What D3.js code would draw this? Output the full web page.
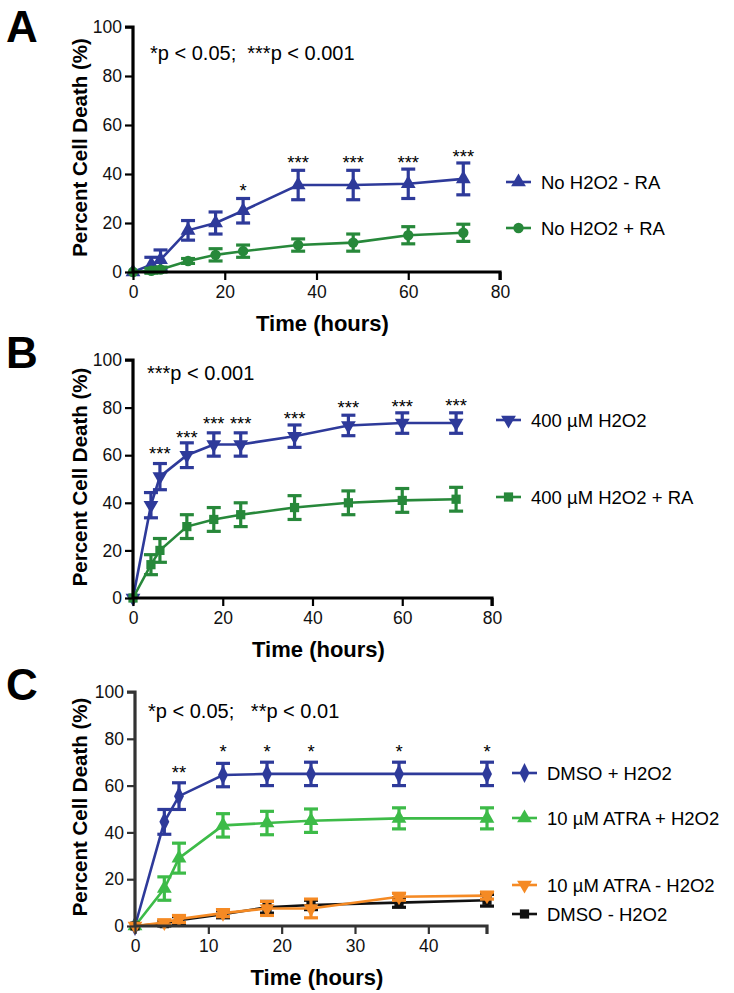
<!DOCTYPE html>
<html><head><meta charset="utf-8">
<script src="https://cdn.jsdelivr.net/npm/d3@7"></script>
<style>
body{margin:0;background:#fff;}
text{font-family:"Liberation Sans",Arial,Helvetica,sans-serif;}
</style></head>
<body><svg id="chart" width="734" height="993"></svg>
<script>
// ---------- DATA ----------
const timesAB = [0, 4, 6, 12, 18, 24, 36, 48, 60, 72];
const timesC  = [0, 4, 6, 12, 18, 24, 36, 48];

// Panel A
const aNoH2O2MinusRA     = [0, 3, 5, 17, 20, 25, 35.5, 35.5, 36, 38];
const aNoH2O2MinusRAErr  = [0, 3, 4, 4, 4.5, 5, 6, 6, 6, 6.5];
const aNoH2O2PlusRA      = [0, 0.5, 1, 4.5, 7, 8.5, 11, 12, 15, 16];
const aNoH2O2PlusRAErr   = [0, 1, 1, 1, 2.5, 2.5, 2.5, 3.5, 3.5, 3.5];
const aStarTimes  = [24, 36, 48, 60, 72];
const aStarLabels = ["*", "***", "***", "***", "***"];
const aStarLevel  = [34.7, 46, 46, 46, 48.5];

// Panel B
const b400H2O2        = [0, 39, 51, 60, 64.5, 64.5, 68, 72.5, 73.5, 73.5];
const b400H2O2Err     = [0, 5.3, 5.5, 5.2, 4.9, 4.9, 4.7, 4.3, 4.3, 4.3];
const b400H2O2RA      = [0, 14, 20, 30, 33, 35, 38, 40, 41, 41.5];
const b400H2O2RAErr   = [0, 4.2, 5, 5, 5, 5, 5, 5, 5, 5];
const bStarTimes  = [6, 12, 18, 24, 36, 48, 60, 72];
const bStarLabels = ["***", "***", "***", "***", "***", "***", "***", "***"];
const bStarLevel  = [62, 69, 75, 75, 77, 81.5, 82, 82.5];

// Panel C
const cDMSOPlus       = [0, 44.5, 55.5, 64.5, 65, 65, 65, 65];
const cDMSOPlusErr    = [0, 5.3, 5.7, 5, 5, 5, 5, 5];
const cATRAPlus       = [0, 16, 29, 43, 44, 45, 46, 46];
const cATRAPlusErr    = [0, 5, 6.4, 5, 5, 5, 4.5, 4.5];
const cATRAMinus      = [0, 1.5, 3, 5.5, 7.5, 7.5, 12.5, 13];
const cATRAMinusErr   = [0, 1, 1.5, 1.5, 3, 4, 1.5, 1.5];
const cDMSOMinus      = [0, 1, 2.5, 5, 8, 9, 10, 11];
const cDMSOMinusErr   = [0, 1, 1.5, 1.5, 2.5, 2, 2, 2.5];
const cStarTimes  = [6, 12, 18, 24, 36, 48];
const cStarLabels = ["**", "*", "*", "*", "*", "*"];
const cStarLevel  = [67, 76, 76, 76, 76, 76];

const yTicks  = [0, 20, 40, 60, 80, 100];
const xTicksAB = [0, 20, 40, 60, 80];
const xTicksC  = [0, 10, 20, 30, 40];

// ---------- DRAW ----------
const svg = d3.select("#chart");
const BLUE = "#2e3a9a", DGREEN = "#27883a", LGREEN = "#3dbb48", ORANGE = "#f58a24", BLACK = "#111";

function shape(name){
  return {tri: d3.symbolTriangle, circle: d3.symbolCircle, square: d3.symbolSquare, diamond: d3.symbolDiamond, triDown: d3.symbolTriangle}[name];
}
function drawMarker(g, name, x, y, color, size){
  const p = g.append("path")
    .attr("d", d3.symbol().type(shape(name)).size(size)())
    .attr("fill", color);
  let t = `translate(${x},${y})`;
  if (name === "triDown") t += " rotate(180)";
  if (name === "diamond") t += " scale(0.95,1.1)";
  p.attr("transform", t);
}

function panel(cfg){
  const g = svg.append("g");
  const x = d3.scaleLinear().domain(cfg.xDomain).range(cfg.xRange);
  const y = d3.scaleLinear().domain([0, 100]).range(cfg.yRange);

  // series
  cfg.series.forEach(s => {
    const pts = cfg.times.map((t, i) => ({t, v: s.values[i], e: s.err[i]}));
    g.append("path").datum(pts)
      .attr("fill", "none").attr("stroke", s.color).attr("stroke-width", 2.6)
      .attr("d", d3.line().x(d => x(d.t)).y(d => y(d.v)));
    pts.forEach(d => {
      if (d.e > 0) {
        const cw = 7;
        g.append("line").attr("x1", x(d.t)).attr("x2", x(d.t)).attr("y1", y(d.v - d.e)).attr("y2", y(d.v + d.e))
          .attr("stroke", s.color).attr("stroke-width", 3.2);
        [d.v - d.e, d.v + d.e].forEach(v => {
          g.append("line").attr("x1", x(d.t) - cw).attr("x2", x(d.t) + cw).attr("y1", y(v)).attr("y2", y(v))
            .attr("stroke", s.color).attr("stroke-width", 3.2);
        });
      }
      drawMarker(g, s.shape, x(d.t), y(d.v), s.color, s.size || 95);
    });
  });

  // axes
  const axisColor = cfg.axisColor || "#000";
  const ya = g.append("g").attr("transform", `translate(${cfg.xRange[0]},0)`)
    .call(d3.axisLeft(y).tickValues(yTicks).tickSize(8).tickPadding(3));
  const xa = g.append("g").attr("transform", `translate(0,${cfg.yRange[0]})`)
    .call(d3.axisBottom(x).tickValues(cfg.xTicks).tickSize(8).tickPadding(6));
  [ya, xa].forEach(a => {
    a.select(".domain").attr("stroke", axisColor).attr("stroke-width", 3.2);
    a.selectAll(".tick line").attr("stroke", axisColor).attr("stroke-width", 2.2);
    a.selectAll(".tick text").attr("fill", "#111").style("font-size", "17.5px")
      .style("font-family", '"Liberation Sans",Arial,sans-serif');
  });
  ya.select(".domain").attr("d", `M0,${cfg.yRange[0]}V${cfg.yRange[1]}H-8`);
  xa.select(".domain").attr("d", `M${cfg.xRange[0]},0H${cfg.xRange[1]}V8`);

  // titles
  g.append("text").attr("x", (cfg.xRange[0] + cfg.xRange[1]) / 2 + 6).attr("y", cfg.yRange[0] + 59)
    .attr("text-anchor", "middle").style("font-weight", "bold").style("font-size", "22px").text("Time (hours)");
  const yc = (cfg.yRange[0] + cfg.yRange[1]) / 2 - 2;
  g.append("text").attr("transform", `translate(87,${yc}) rotate(-90)`)
    .attr("text-anchor", "middle").style("font-weight", "bold").style("font-size", "20.5px").text("Percent Cell Death (%)");

  // panel letter
  g.append("text").attr("x", 6).attr("y", cfg.letterY).style("font-weight", "bold").style("font-size", "44px").text(cfg.letter);

  // significance note
  g.append("text").attr("x", cfg.noteX).attr("y", cfg.noteY).style("font-size", "20px").attr("fill", "#000")
    .attr("xml:space", "preserve").text(cfg.note);

  // stars
  cfg.starTimes.forEach((t, i) => {
    g.append("text").attr("x", x(t)).attr("y", y(cfg.starLevel[i]) + 10).attr("text-anchor", "middle")
      .style("font-size", "18.5px").text(cfg.starLabels[i]);
  });

  // legend
  cfg.series.forEach((s, i) => {
    const ly = cfg.legendY[i];
    g.append("line").attr("x1", cfg.legendX).attr("x2", cfg.legendX + 25).attr("y1", ly).attr("y2", ly)
      .attr("stroke", s.color).attr("stroke-width", 2.6);
    drawMarker(g, s.shape, cfg.legendX + 12.5, ly, s.color, s.size || 95);
    g.append("text").attr("x", cfg.legendX + 35).attr("y", ly + 6.5).style("font-size", "18.5px").text(s.name);
  });
}

panel({
  letter: "A", letterY: 42,
  times: timesAB, xDomain: [0, 80], xRange: [133, 500], yRange: [272, 27], xTicks: xTicksAB,
  note: "*p < 0.05;  ***p < 0.001", noteX: 150, noteY: 60,
  starTimes: aStarTimes, starLabels: aStarLabels, starLevel: aStarLevel,
  legendX: 506, legendY: [182, 228],
  series: [
    {name: "No H2O2 - RA", values: aNoH2O2MinusRA, err: aNoH2O2MinusRAErr, color: BLUE, shape: "tri"},
    {name: "No H2O2 + RA", values: aNoH2O2PlusRA, err: aNoH2O2PlusRAErr, color: DGREEN, shape: "circle", size: 85}
  ]
});

panel({
  letter: "B", letterY: 368,
  times: timesAB, xDomain: [0, 80], xRange: [133, 492], yRange: [598, 360], xTicks: xTicksAB,
  note: "***p < 0.001", noteX: 147, noteY: 380,
  starTimes: bStarTimes, starLabels: bStarLabels, starLevel: bStarLevel,
  legendX: 496, legendY: [420, 497],
  series: [
    {name: "400 \u00b5M H2O2", values: b400H2O2, err: b400H2O2Err, color: BLUE, shape: "triDown"},
    {name: "400 \u00b5M H2O2 + RA", values: b400H2O2RA, err: b400H2O2RAErr, color: DGREEN, shape: "square", size: 85}
  ]
});

panel({
  letter: "C", letterY: 700,
  times: timesC, xDomain: [0, 48], xRange: [135, 487], yRange: [926, 692], xTicks: xTicksC, axisColor: "#333",
  note: "*p < 0.05;   **p < 0.01", noteX: 148, noteY: 718,
  starTimes: cStarTimes, starLabels: cStarLabels, starLevel: cStarLevel,
  legendX: 512, legendY: [773, 818, 914, 885],
  series: [
    {name: "DMSO + H2O2", values: cDMSOPlus, err: cDMSOPlusErr, color: BLUE, shape: "diamond"},
    {name: "10 \u00b5M ATRA + H2O2", values: cATRAPlus, err: cATRAPlusErr, color: LGREEN, shape: "tri"},
    {name: "DMSO - H2O2", values: cDMSOMinus, err: cDMSOMinusErr, color: BLACK, shape: "square", size: 85},
    {name: "10 \u00b5M ATRA - H2O2", values: cATRAMinus, err: cATRAMinusErr, color: ORANGE, shape: "triDown"}
  ]
});
</script></body></html>
